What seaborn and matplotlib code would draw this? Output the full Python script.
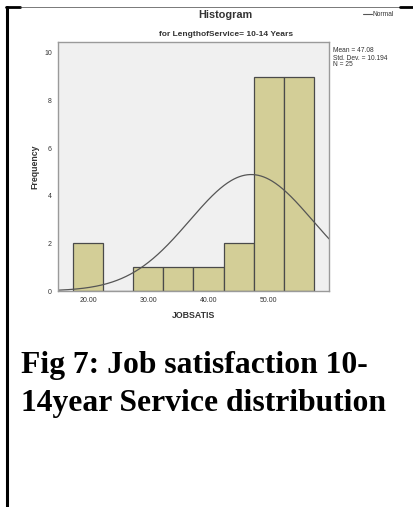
import numpy as np
import pandas as pd
import matplotlib
matplotlib.use('Agg')
import matplotlib.pyplot as plt
from matplotlib.lines import Line2D
import seaborn as sns

# ── data ─────────────────────────────────────────────────────
bin_centers = [20, 25, 30, 35, 40, 45, 50, 55]
counts      = [2, 0, 1, 1, 1, 2, 9, 9]
bin_width   = 5
mean_val    = 47.08
sd_val      = 10.194
n_val       = 25
y_ticks     = [0, 2, 4, 6, 8, 10]
x_ticks     = [20, 30, 40, 50]
x_ticklabels = ['20.00', '30.00', '40.00', '50.00']

df = pd.DataFrame({'JOBSATIS': bin_centers, 'count': counts})
edges = [c - bin_width / 2 for c in bin_centers] + [bin_centers[-1] + bin_width / 2]

# normal curve scaled to counts (N * bin width)
xs = np.linspace(15, 60, 300)
curve = pd.DataFrame({
    'x': xs,
    'y': n_val * bin_width / (sd_val * np.sqrt(2 * np.pi))
         * np.exp(-0.5 * ((xs - mean_val) / sd_val) ** 2),
})

sns.set_style('white')
plt.rcParams['font.family'] = ['Liberation Sans', 'DejaVu Sans']

W, H = 414, 507
fig = plt.figure(figsize=(W / 100, H / 100), dpi=100)
ax = fig.add_axes([58 / W, 1 - 291 / H, (329 - 58) / W, (291 - 42) / H])
ax.set_facecolor('#f0f0f0')

sns.histplot(data=df, x='JOBSATIS', weights='count', bins=edges, ax=ax,
             color='#d3ce97', edgecolor='#4a4a4a', linewidth=0.9, alpha=1)
sns.lineplot(data=curve, x='x', y='y', ax=ax, color='#555555', linewidth=0.9)

ax.set_xlim(15, 60)
ax.set_ylim(0, 10.46)
ax.set_yticks(y_ticks)
ax.set_yticklabels([str(v) for v in y_ticks])
ax.set_xticks(x_ticks)
ax.set_xticklabels(x_ticklabels)
ax.tick_params(axis='both', labelsize=5, length=3, width=0.6, color='#666666',
               pad=1.5, labelcolor='#333333', direction='out')
for s in ax.spines.values():
    s.set_color('#9a9a9a')
    s.set_linewidth(1.0)

ax.set_xlabel('JOBSATIS', fontsize=6.3, fontweight='bold', color='#333333', labelpad=5)
ax.set_ylabel('Frequency', fontsize=6.3, fontweight='bold', color='#333333', labelpad=3)

# titles and annotations
fig.text(225 / W, 1 - 15 / H, 'Histogram', ha='center', va='center',
         fontsize=7.8, fontweight='bold', color='#333333')
fig.text(226 / W, 1 - 35 / H, 'for LengthofService= 10-14 Years', ha='center', va='center',
         fontsize=6.0, fontweight='bold', color='#333333')
fig.text(333 / W, 1 - 58 / H,
         f'Mean = {mean_val:.2f}\nStd. Dev. = {sd_val:.3f}\nN = {n_val}',
         ha='left', va='center', fontsize=4.8, color='#333333', linespacing=1.0)
fig.add_artist(Line2D([363 / W, 372 / W], [1 - 14 / H, 1 - 14 / H],
                      color='#555555', linewidth=0.8))
fig.text(373 / W, 1 - 14 / H, 'Normal', ha='left', va='center',
         fontsize=4.8, color='#333333')

# caption
cap_font = ['Liberation Serif', 'DejaVu Serif']
fig.text(21 / W, 1 - 365 / H, 'Fig 7: Job satisfaction 10-', ha='left', va='center',
         fontsize=22.8, fontweight='bold', family=cap_font, color='black')
fig.text(21 / W, 1 - 404 / H, '14year Service distribution', ha='left', va='center',
         fontsize=22.8, fontweight='bold', family=cap_font, color='black')

# page border fragments
fig.add_artist(Line2D([7 / W, 7 / W], [1 - 7 / H, 0], color='black', linewidth=2.2))
fig.add_artist(Line2D([6 / W, 20 / W], [1 - 7 / H, 1 - 7 / H], color='black', linewidth=2.0))
fig.add_artist(Line2D([20 / W, 400 / W], [1 - 7 / H, 1 - 7 / H], color='#444444', linewidth=0.5))
fig.add_artist(Line2D([400 / W, 1], [1 - 7 / H, 1 - 7 / H], color='black', linewidth=2.0))

fig.savefig('out.png', dpi=100)
